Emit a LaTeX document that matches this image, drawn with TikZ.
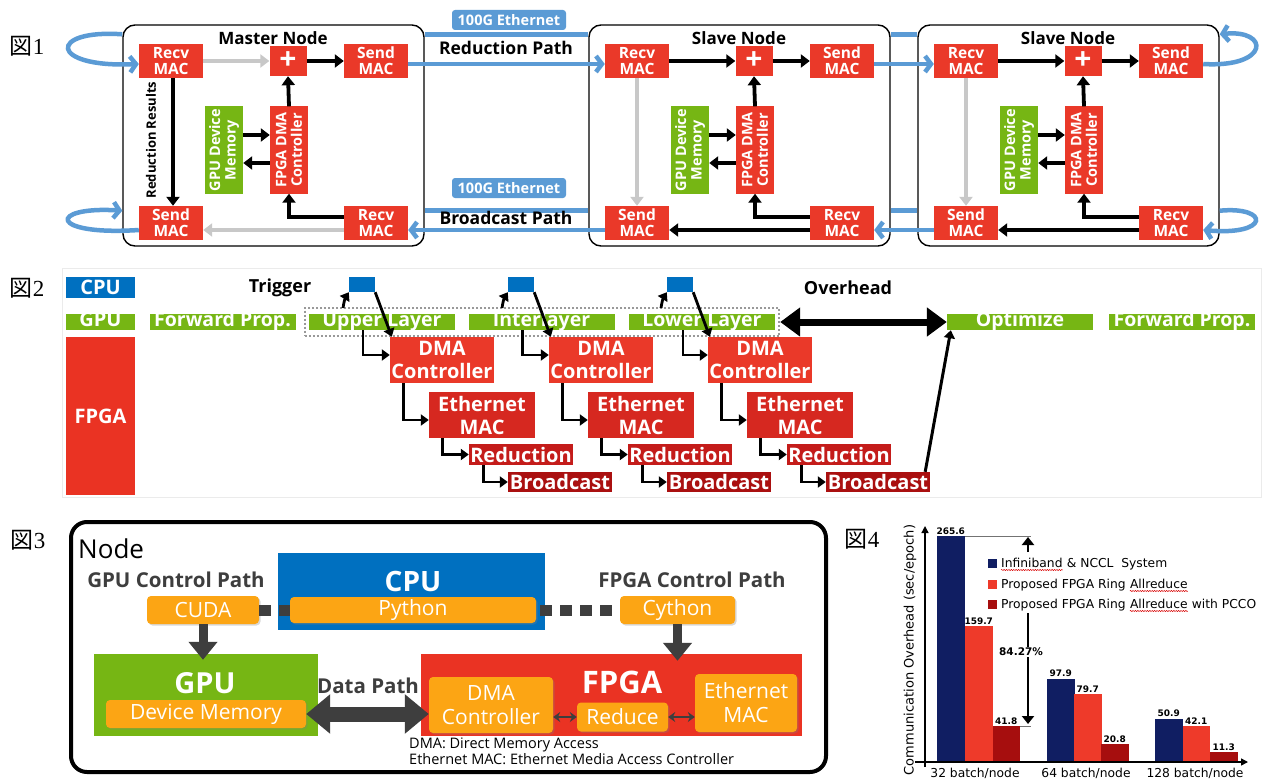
\documentclass[tikz,border=0pt]{standalone}
\usepackage{fontspec}
\setmainfont{Open Sans}
\newfontfamily\cjkfont{Noto Sans CJK JP}
\newfontfamily\digitfont{Liberation Serif}
\newfontfamily\chartfont{DejaVu Sans}
\usetikzlibrary{arrows.meta,shadows,decorations.pathmorphing,fit}

\definecolor{macred}{RGB}{234,57,41}
\definecolor{gpugreen}{RGB}{118,182,20}
\definecolor{wireblue}{RGB}{91,155,213}
\definecolor{paleArrow}{RGB}{200,200,200}
\definecolor{cpublue}{RGB}{0,112,192}
\definecolor{fpgared}{RGB}{234,51,35}
\definecolor{ethred}{RGB}{214,40,32}
\definecolor{reducered}{RGB}{196,28,26}
\definecolor{bcastred}{RGB}{170,16,16}
\definecolor{boxorange}{RGB}{252,165,20}
\definecolor{inkgray}{RGB}{62,62,62}
\definecolor{navybar}{RGB}{16,30,98}
\definecolor{barred}{RGB}{238,58,42}
\definecolor{bardark}{RGB}{166,14,14}

\newcommand\figtag[1]{{\cjkfont 図}{\digitfont #1}}

\tikzset{
  figlabel/.style={font=\fontsize{23}{23}\selectfont, inner sep=0pt},
  % ring of nodes
  nodebox/.style={draw, line width=1.4pt, rounded corners=12pt, minimum width=301pt, minimum height=221pt, inner sep=0pt},
  boxtitle/.style={font=\bfseries\fontsize{17}{17}\selectfont, inner sep=0pt},
  mac/.style={fill=macred, text=white, align=center, inner sep=0pt, minimum width=64pt, minimum height=34pt, font=\bfseries\fontsize{15.5}{16}\selectfont},
  plusbox/.style={fill=macred, text=white, inner sep=0pt, minimum width=37pt, minimum height=30pt, font=\bfseries\fontsize{30}{30}\selectfont},
  vbox/.style={rotate=90, text=white, align=center, inner sep=0pt, minimum width=87pt, minimum height=38pt, font=\bfseries\fontsize{14.5}{15.5}\selectfont},
  blk/.style={line width=3.8pt, -{Triangle[length=9pt,width=13pt]}},
  pale/.style={blk, paleArrow},
  wire/.style={wireblue, line width=4.5pt},
  wirearrow/.style={wire, -{Straight Barb[length=6pt,width=16pt]}},
  ethtag/.style={fill=wireblue, text=white, rounded corners=3pt, minimum width=114pt, minimum height=20pt, inner sep=0pt, font=\bfseries\fontsize{14.5}{14.5}\selectfont},
  pathtext/.style={font=\bfseries\fontsize{17.5}{17.5}\selectfont, inner sep=0pt},
  % timeline
  rowtag/.style={text=white, inner sep=0pt, minimum width=69pt, font=\bfseries\fontsize{20}{20}\selectfont},
  gbar/.style={fill=gpugreen, text=white, inner sep=0pt, minimum width=146pt, minimum height=16pt, text height=12pt, text depth=3pt, font=\bfseries\fontsize{19.5}{19.5}\selectfont},
  trig/.style={fill=cpublue, minimum width=26pt, minimum height=15pt, inner sep=0pt},
  stage/.style={text=white, align=center, inner sep=0pt, minimum width=104pt, font=\bfseries\fontsize{20}{23}\selectfont},
  tarrow/.style={line width=2.8pt, -{Triangle[length=8pt,width=11pt]}},
  ovh/.style={line width=7pt, {Triangle[length=20pt,width=28pt]}-{Triangle[length=20pt,width=28pt]}},
  bigtext/.style={font=\bfseries\fontsize{18}{18}\selectfont, inner sep=0pt},
  % node block diagram
  orange/.style={fill=boxorange, text=white, rounded corners=4pt, inner sep=0pt, align=center, font=\fontsize{21}{24}\selectfont, drop shadow={shadow xshift=1.5pt, shadow yshift=-1.5pt, opacity=0.3}},
  bigname/.style={text=white, font=\bfseries\fontsize{29}{29}\selectfont, inner sep=0pt},
  graytext/.style={text=inkgray, font=\bfseries\fontsize{20.5}{20.5}\selectfont, inner sep=0pt},
  ctrl/.style={inkgray, line width=11pt, dash pattern=on 12pt off 8pt},
  blockarrow/.style={inkgray, line width=9pt, -{Triangle[length=18pt,width=28pt]}},
  datapath/.style={inkgray, line width=15pt, {Triangle[length=24pt,width=38pt]}-{Triangle[length=24pt,width=38pt]}},
  thin2/.style={inkgray, line width=2.4pt, {Stealth[length=7pt,width=10pt]}-{Stealth[length=7pt,width=10pt]}},
  % chart
  axis/.style={line width=1.4pt, -{Triangle[length=7pt,width=7pt]}},
  valtext/.style={font=\chartfont\bfseries\fontsize{9}{9}\selectfont, inner sep=1.5pt},
  legtext/.style={font=\chartfont\fontsize{12.3}{12.3}\selectfont, inner sep=0pt},
  legsq/.style={minimum width=9pt, minimum height=9pt, inner sep=0pt},
  cat/.style={font=\chartfont\fontsize{12.3}{12.3}\selectfont, inner sep=0pt},
  squiggle/.style={red!85!black, line width=0.5pt, decorate, decoration={snake, amplitude=0.6pt, segment length=2.4pt}},
  pct/.style={line width=2.5pt, -{Triangle[length=8pt,width=12pt]}},
}

\begin{document}
\begin{tikzpicture}[x=1pt, y=-1pt]
\useasboundingbox (0,0) rectangle (1265,781);
\fill[white] (0,0) rectangle (1265,781);

% ---------------- Figure 1: ring of FPGA nodes ----------------
\node[figlabel] (f1) at (27,46) {\figtag{1}};
\foreach \p/\L/\ttl in {m/123/Master Node, s/589/Slave Node, t/918/Slave Node}{
  \node[nodebox] (\p-box) at (\L+150.5,135.5) {};
  \node[boxtitle] (\p-title) at (\L+150,38) {\ttl};
  \node[mac] (\p-rt) at (\L+48,61) {Recv\\MAC};
  \node[plusbox] (\p-plus) at (\L+165,61) {+};
  \node[mac] (\p-st) at (\L+253,61) {Send\\MAC};
  \node[vbox, fill=gpugreen] (\p-gpu) at (\L+101,150) {GPU Device\\Memory};
  \node[vbox, fill=macred] (\p-dma) at (\L+166,150) {FPGA DMA\\Controller};
  \node[mac] (\p-sb) at (\L+48,223) {Send\\MAC};
  \node[mac] (\p-rb) at (\L+253,223) {Recv\\MAC};
  \draw[blk] (\p-plus.east) -- (\p-st.west);
  \draw[blk] (\p-dma.east) -- (\p-plus.south);
  \draw[blk] ([yshift=15pt]\p-gpu.south) -- ([yshift=15pt]\p-dma.north);
  \draw[blk] ([yshift=-13pt]\p-dma.north) -- ([yshift=-13pt]\p-gpu.south);
  \draw[blk] ([yshift=6pt]\p-rb.west) -| (\p-dma.west);
}
% master: reduction results go straight down
\draw[pale] (m-rt.east) -- (m-plus.west);
\draw[blk] ([xshift=2pt]m-rt.south) -- ([xshift=2pt]m-sb.north);
\draw[pale] ([yshift=-7pt]m-rb.west) -- ([yshift=-7pt]m-sb.east);
\node[rotate=90, font=\bfseries\fontsize{13}{13}\selectfont, inner sep=0pt] (m-res) at (151,140) {Reduction Results};
% slaves: reduce, then forward the broadcast
\foreach \p in {s,t}{
  \draw[blk] (\p-rt.east) -- (\p-plus.west);
  \draw[pale] (\p-rt.south) -- (\p-sb.north);
  \draw[blk] ([yshift=-7pt]\p-rb.west) -- ([yshift=-7pt]\p-sb.east);
}
% 100G Ethernet cabling
\foreach \a/\b in {m/s, s/t}{
  \draw[wire] ([yshift=-10pt]\a-box.north east) -- ([yshift=-10pt]\b-box.north west);
  \draw[wire] ([yshift=36pt]\a-box.south east) -- ([yshift=36pt]\b-box.south west);
  \draw[wirearrow] ([yshift=-3pt]\a-st.east) -- ([yshift=-3pt]\b-rt.west);
  \draw[wirearrow] ([yshift=-7pt]\b-sb.west) -- ([yshift=-7pt]\a-rb.east);
}
\draw[wirearrow] ([yshift=-10pt]m-box.north west) .. controls (48,29) and (48,68) .. ([yshift=-3pt]m-rt.west);
\draw[wirearrow] ([yshift=-7pt]m-sb.west) .. controls (48,236) and (48,206) .. ([yshift=36pt]m-box.south west);
\draw[wirearrow] ([yshift=-3pt]t-st.east) .. controls (1270,68) and (1270,29) .. ([yshift=-10pt]t-box.north east);
\draw[wirearrow] ([yshift=36pt]t-box.south east) .. controls (1270,206) and (1270,236) .. ([yshift=-7pt]t-rb.east);
\node[ethtag] (eth-top) at (509,20) {100G Ethernet};
\node[ethtag] (eth-bot) at (509,188) {100G Ethernet};
\node[pathtext] (red-path) at (506,48) {Reduction Path};
\node[pathtext] (bc-path) at (506,218) {Broadcast Path};

% ---------------- Figure 2: timeline ----------------
\draw[black!8, line width=0.8pt] (62,268) rectangle (1261,497);
\node[figlabel] (f2) at (27,288) {\figtag{2}};
\node[rowtag, fill=cpublue, minimum height=21pt] (cpu-row) at (100.5,287.5) {CPU};
\node[rowtag, fill=gpugreen, minimum height=16pt, text height=12pt, text depth=3pt] (gpu-row) at (100.5,322) {GPU};
\node[rowtag, fill=fpgared, minimum height=158pt] (fpga-row) at (100.5,416) {FPGA};
\node[gbar] (fwd-a) at (222.5,322) {Forward Prop.};
\node[gbar] (up) at (382,322) {Upper Layer};
\node[gbar] (il) at (541.5,322) {Interlayer};
\node[gbar] (lo) at (702,322) {Lower Layer};
\node[gbar] (opt) at (1020,322) {Optimize};
\node[gbar] (fwd-b) at (1182,322) {Forward Prop.};
\node[draw=black!40, line width=2pt, dash pattern=on 2pt off 2pt, inner xsep=4pt, inner ysep=6pt, fit=(up)(lo)] (grp) {};
\node[bigtext] (trig-txt) at (280,288) {Trigger};
\node[bigtext] (ovh-txt) at (848,288) {Overhead};
\foreach \i/\dx/\lay in {1/0/up, 2/159/il, 3/318/lo}{
  \node[trig] (sq\i) at (362+\dx,284.5) {};
  \node[stage, fill=macred, minimum height=46pt] (dma\i) at (442+\dx,360) {DMA\\Controller};
  \node[stage, fill=ethred, minimum width=106pt, minimum height=46pt] (eth\i) at (482+\dx,415) {Ethernet\\MAC};
  \node[stage, fill=reducered, minimum height=21pt] (rdc\i) at (521+\dx,454.5) {Reduction};
  \node[stage, fill=bcastred, minimum height=20pt] (bc\i) at (560+\dx,482) {Broadcast};
  \coordinate (tap\i) at (343+\dx,308);
  \draw[tarrow] (tap\i) to[bend left=12] (sq\i.south west);
  \draw[tarrow] (sq\i.south east) -- ([xshift=2pt]dma\i.north west);
  \draw[tarrow] ([xshift=-19pt]\lay.south) |- ([yshift=5pt]dma\i.west);
  \draw[tarrow] ([xshift=14pt]dma\i.south west) |- ([yshift=-5pt]eth\i.west);
  \draw[tarrow] ([xshift=14pt]eth\i.south west) |- (rdc\i.west);
  \draw[tarrow] ([xshift=15pt]rdc\i.south west) |- (bc\i.west);
}
\draw[ovh] (grp.east) -- (opt.west);
\draw[tarrow, line width=3pt] ([xshift=-5pt]bc3.north east) -- ([xshift=4pt]opt.south west);

% ---------------- Figure 3: node architecture ----------------
\node[figlabel] (f3) at (28,540) {\figtag{3}};
\node[draw, line width=4pt, rounded corners=16pt, minimum width=755pt, minimum height=250pt, inner sep=0pt] (nodebox) at (448.5,647) {};
\node[anchor=west, inner sep=0pt, font=\fontsize{26}{26}\selectfont] (node-title) at (78,549) {Node};
\node[fill=cpublue, minimum width=267pt, minimum height=77pt, inner sep=0pt] (cpu3) at (411.5,591.5) {};
\node[bigname, font=\bfseries\fontsize{28}{28}\selectfont] (cpu3-name) at (413,581) {CPU};
\node[fill=gpugreen, minimum width=224pt, minimum height=82pt, inner sep=0pt] (gpu3) at (206,695) {};
\node[bigname] (gpu3-name) at (205,683) {GPU};
\node[fill=fpgared, minimum width=381pt, minimum height=82pt, inner sep=0pt] (fpga3) at (611.5,695) {};
\node[bigname, font=\bfseries\fontsize{31}{31}\selectfont] (fpga3-name) at (622,682) {FPGA};
\node[orange, minimum width=246pt, minimum height=26pt] (python) at (413,610) {Python};
\node[orange, minimum width=112pt, minimum height=28pt] (cuda) at (203,610) {CUDA};
\node[orange, minimum width=115pt, minimum height=28pt] (cython) at (677.5,610) {Cython};
\node[orange, minimum width=200pt, minimum height=28pt] (devmem) at (206,714) {Device Memory};
\node[orange, minimum width=124pt, minimum height=56pt] (dmac) at (491,705) {DMA\\Controller};
\node[orange, minimum width=91pt, minimum height=29pt] (reduce) at (622.5,717) {Reduce};
\node[orange, minimum width=102pt, minimum height=58pt] (ethm) at (746,703) {Ethernet\\MAC};
\node[graytext] (gcp) at (176,580) {GPU Control Path};
\node[graytext] (fcp) at (692,580) {FPGA Control Path};
\node[graytext] (dp) at (368,686) {Data Path};
\draw[ctrl] (cuda.east) -- (python.west);
\draw[ctrl, dash phase=16pt] (python.east) -- (cython.west);
\draw[blockarrow, shorten >=-6pt] (cuda.south) -- (cuda.south |- gpu3.north);
\draw[blockarrow, shorten >=-7pt] (cython.south) -- (cython.south |- fpga3.north);
\draw[datapath] (devmem.east) -- (devmem.east -| dmac.west);
\draw[thin2] (reduce.west -| dmac.east) -- (reduce.west);
\draw[thin2] (reduce.east) -- (reduce.east -| ethm.west);
\node[anchor=north west, align=left, inner sep=0pt, font=\fontsize{14.5}{16}\selectfont] (note) at (409,738) {DMA: Direct Memory Access\\Ethernet MAC: Ethernet Media Access Controller};

% ---------------- Figure 4: communication overhead chart ----------------
\node[figlabel] (f4) at (862,539) {\figtag{4}};
\foreach \k/\x/\v/\c in {1/937/265.6/navybar, 2/965/159.7/barred, 3/992.5/41.8/bardark,
                         4/1047/97.9/navybar, 5/1074/79.7/barred, 6/1101/20.8/bardark,
                         7/1155/50.9/navybar, 8/1182.5/42.1/barred, 9/1210/11.3/bardark}{
  \fill[\c] (\x,762) rectangle ({\x+27.5},{762-0.851*\v});
  \node[valtext, anchor=south] (val\k) at ({\x+13.75},{762-0.851*\v}) {\v};
}
\coordinate (ybot) at (925,767);
\coordinate (ytop) at (925,526);
\coordinate (xleft) at (915,762);
\coordinate (xright) at (1248,762);
\draw[axis] (ybot) -- (ytop);
\draw[axis] (xleft) -- (xright);
\node[rotate=90, font=\chartfont\fontsize{13}{13}\selectfont, inner sep=0pt] (ylab) at (910,650) {Communication Overhead (sec/epoch)};
\node[cat] (c1) at (975,773) {32 batch/node};
\node[cat] (c2) at (1086,773) {64 batch/node};
\node[cat] (c3) at (1195,773) {128 batch/node};
% reduction bracket between the tallest and the lowest bar of the first group
\coordinate (hiEnd) at (1031,536);
\coordinate (loEnd) at (1031,726);
\draw[black!55, line width=0.6pt] (965,536) -- (hiEnd);
\draw[black!55, line width=0.6pt] (1020,726) -- (loEnd);
\coordinate (upFrom) at (1028,552);
\coordinate (upTo) at (1028,537);
\coordinate (downFrom) at (1028,613);
\coordinate (downTo) at (1028,724);
\draw[pct] (upFrom) -- (upTo);
\draw[pct] (downFrom) -- (downTo);
\node[fill=white, inner sep=1pt, font=\chartfont\bfseries\fontsize{10.5}{10.5}\selectfont] (pctlbl) at (1021,652) {84.27\%};
% legend
\node[legsq, fill=navybar] (k1) at (992.5,563) {};
\node[legsq, fill=barred] (k2) at (992.5,584) {};
\node[legsq, fill=bardark] (k3) at (992.5,604) {};
\node[legtext, anchor=base west] (l1a) at (1001,567.5) {Infiniband};
\node[legtext, anchor=base west] (l1b) at (l1a.base east) {\ \&\ NCCL\ \ System};
\node[legtext, anchor=base west] (l2a) at (1001,588.5) {Proposed FPGA Ring};
\node[legtext, anchor=base west] (l2b) at ([xshift=4pt]l2a.base east) {Allreduce};
\node[legtext, anchor=base west] (l3a) at (1001,608.5) {Proposed FPGA Ring};
\node[legtext, anchor=base west] (l3b) at ([xshift=4pt]l3a.base east) {Allreduce};
\node[legtext, anchor=base west] (l3c) at (l3b.base east) {\ with PCCO};
\draw[squiggle] ([yshift=-2.5pt]l1a.base west) -- ([yshift=-2.5pt]l1a.base east);
\draw[squiggle] ([yshift=-2.5pt]l2b.base west) -- ([yshift=-2.5pt]l2b.base east);
\draw[squiggle] ([yshift=-2.5pt]l3b.base west) -- ([yshift=-2.5pt]l3b.base east);
\end{tikzpicture}
\end{document}
